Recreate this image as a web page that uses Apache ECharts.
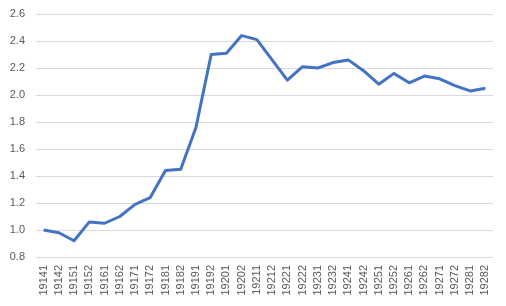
<!DOCTYPE html>
<html><head><meta charset="utf-8">
<script src="https://cdn.jsdelivr.net/npm/echarts@6/dist/echarts.min.js"></script>
<style>html,body{margin:0;padding:0;background:#fff}#c{width:506px;height:306px}</style>
</head><body><div id="c"></div>
<script>
const categories = ['19141','19142','19151','19152','19161','19162','19171','19172','19181','19182','19191','19192','19201','19202','19211','19212','19221','19222','19231','19232','19241','19242','19251','19252','19261','19262','19271','19272','19281','19282'];
const values = [1.00,0.98,0.92,1.06,1.05,1.10,1.19,1.24,1.44,1.45,1.76,2.30,2.31,2.44,2.41,2.26,2.11,2.21,2.20,2.24,2.26,2.18,2.08,2.16,2.09,2.14,2.12,2.07,2.03,2.05];
const yMin = 0.8, yMax = 2.6, yStep = 0.2;
const chart = echarts.init(document.getElementById('c'), null, {renderer:'canvas'});
chart.setOption({
  animation:false,
  backgroundColor:'#fff',
  grid:{left:36,right:13,top:14,bottom:49,containLabel:false},
  xAxis:{type:'category',data:categories,boundaryGap:true,
    axisLine:{show:false},axisTick:{show:false},
    axisLabel:{rotate:90,interval:0,margin:8,color:'#595959',fontSize:11,fontFamily:'Liberation Sans, Arial, sans-serif'}},
  yAxis:{type:'value',min:yMin,max:yMax,interval:yStep,
    axisLine:{show:false},axisTick:{show:false},
    splitLine:{lineStyle:{color:'#d9d9d9',width:1}},
    axisLabel:{margin:11,color:'#595959',fontSize:11,fontFamily:'Liberation Sans, Arial, sans-serif',formatter:v=>v.toFixed(1)}},
  series:[{type:'line',data:values,symbol:'none',lineStyle:{color:'#4472C4',width:3,join:'round'},itemStyle:{color:'#4472C4'}}]
});
</script></body></html>
